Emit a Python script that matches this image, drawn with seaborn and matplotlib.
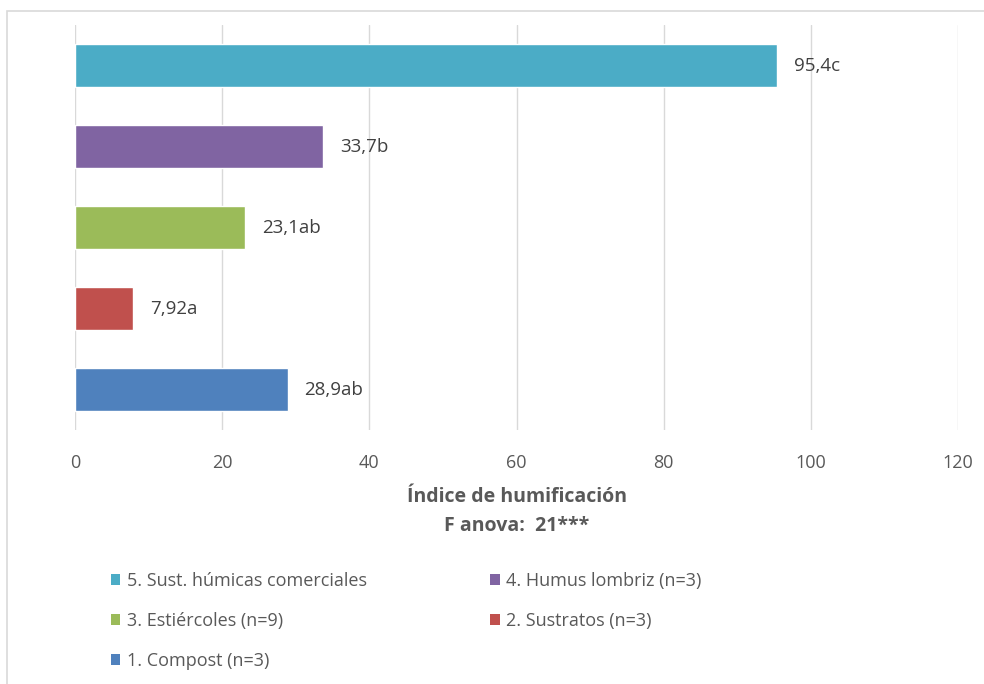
import numpy as np
import pandas as pd
import matplotlib.pyplot as plt
from matplotlib.patches import Patch, Rectangle
import seaborn as sns

# Datos
categorias = ['5. Sust. húmicas comerciales', '4. Humus lombriz (n=3)',
              '3. Estiércoles (n=9)', '2. Sustratos (n=3)', '1. Compost (n=3)']
valores = [95.4, 33.7, 23.1, 7.92, 28.9]
etiquetas = ['95,4c', '33,7b', '23,1ab', '7,92a', '28,9ab']
colores = ['#4BACC6', '#8064A2', '#9BBB59', '#C0504D', '#4F81BD']
ticks_x = [0, 20, 40, 60, 80, 100, 120]

sns.set_style('white')
plt.rcParams['font.family'] = ['Open Sans', 'DejaVu Sans']

df = pd.DataFrame({'cat': categorias, 'val': valores})

fig = plt.figure(figsize=(9.84, 6.84), dpi=100)
ax = fig.add_axes([0.0762, 0.371, 0.8974, 0.592])

sns.barplot(data=df, x='val', y='cat', hue='cat', palette=colores, order=categorias,
            hue_order=categorias, orient='h', width=0.53, legend=False, ax=ax,
            saturation=1)

ax.set_xlim(0, 120)
ax.set_xticks(ticks_x)
ax.set_xticklabels([str(t) for t in ticks_x], fontsize=13, color='#595959')
ax.set_yticks([])
ax.set_ylabel('')
ax.set_xlabel('Índice de humificación\nF anova:  21***', fontsize=14, fontweight='bold',
              color='#595959', labelpad=11, linespacing=1.62)
ax.tick_params(axis='x', length=0, pad=17)
ax.grid(axis='x', color='#d9d9d9', lw=1)
ax.set_axisbelow(True)
for s in ax.spines.values():
    s.set_visible(False)

for i, (v, lab) in enumerate(zip(valores, etiquetas)):
    ax.text(v + 2.3, i, lab, va='center', ha='left', fontsize=13.5, color='#404040')

# Leyenda (fila por fila)
orden = [0, 2, 4, 1, 3]
handles = [Patch(facecolor=colores[k], edgecolor='none') for k in orden]
labels = [categorias[k] for k in orden]
fig.legend(handles, labels, loc='upper left', bbox_to_anchor=(0.105, 0.174),
           ncol=2, frameon=False, fontsize=13, handlelength=0.55, handleheight=0.55,
           handletextpad=0.35, columnspacing=6.8, labelspacing=1.2, labelcolor='#595959',
           borderaxespad=0)

# Marco exterior
fig.patches.append(Rectangle((7 / 984, -0.05), 1.2, 1 - 11 / 684 + 0.05,
                             transform=fig.transFigure, fill=False,
                             edgecolor='#d9d9d9', lw=1.2))

fig.savefig('out.png', dpi=100)
